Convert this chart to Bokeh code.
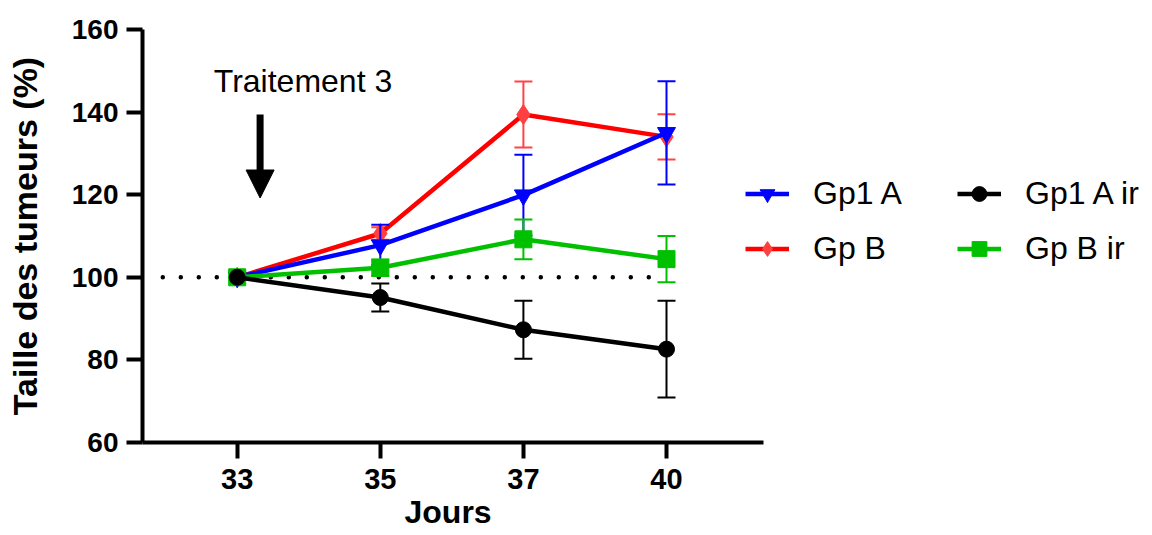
from bokeh.plotting import figure
from bokeh.models import (Range1d, FixedTicker, Legend, LegendItem, Label,
                          Arrow, NormalHead, Title)
from bokeh.embed import file_html
from bokeh.resources import INLINE

# ---------------- data ----------------
jours = ["33", "35", "37", "40"]
x_idx = [0, 1, 2, 3]

gp1a = [100, 107.8, 119.9, 135.0]
gp1a_err = [0, 4.9, 9.8, 12.5]

gpb = [100, 110.6, 139.4, 134.0]
gpb_err = [0, 1.5, 8.0, 5.5]

gpbir = [100, 102.3, 109.2, 104.4]
gpbir_err = [0, 2.0, 4.8, 5.6]

gp1air = [100, 95.1, 87.3, 82.6]
gp1air_err = [0, 3.4, 7.0, 11.7]

y_ticks = [60, 80, 100, 120, 140, 160]
ref_level = 100
ref_x = [-0.52, 3.0]

treat_x = 0.16
treat_y_start = 139.4
treat_y_end = 119.2
treat_text = "Traitement 3"

FONT = "Liberation Sans"

# ---------------- figure ----------------
W, H = 1152, 535
LEFT, TOP, FW, FH = 142, 29, W - 142, 413
PX_PER_DAY = 143.1
X0 = -(236.7 - LEFT) / PX_PER_DAY          # left end of x axis
X_AXIS_END = (763 - 236.7) / PX_PER_DAY    # right end of drawn x axis
X1 = X0 + FW / PX_PER_DAY                  # frame extends under legend

p = figure(width=W, height=H,
           x_range=Range1d(X0, X1), y_range=Range1d(60, 160),
           output_backend="svg", toolbar_location=None,
           min_border_left=LEFT, min_border_right=0,
           min_border_top=TOP, min_border_bottom=H - TOP - FH)
p.outline_line_color = None
p.xgrid.visible = False
p.ygrid.visible = False
p.background_fill_color = "white"
p.border_fill_color = "white"

for ax in (p.xaxis[0], p.yaxis[0]):
    ax.axis_line_width = 4
    ax.axis_line_color = "black"
    ax.major_tick_line_width = 4
    ax.major_tick_line_color = "black"
    ax.major_tick_out = 16
    ax.major_tick_in = 0
    ax.minor_tick_line_color = None
    ax.major_label_text_font = FONT
    ax.major_label_text_font_style = "bold"
    ax.major_label_text_color = "black"
    ax.axis_label_text_font = FONT
    ax.axis_label_text_font_style = "bold"
    ax.axis_label_text_color = "black"

p.xaxis.bounds = (X0, X_AXIS_END)
p.xaxis.ticker = FixedTicker(ticks=x_idx)
p.xaxis.major_label_overrides = {i: j for i, j in zip(x_idx, jours)}
p.xaxis.major_label_text_font_size = "29px"
p.xaxis.major_label_standoff = 10

p.yaxis.ticker = FixedTicker(ticks=y_ticks)
p.yaxis.major_label_text_font_size = "28px"
p.yaxis.major_label_standoff = 8
p.yaxis.axis_label = "Taille des tumeurs (%)"
p.yaxis.axis_label_text_font_size = "34px"
p.yaxis.axis_label_standoff = 25

# x axis title, placed under the middle of the drawn axis
p.add_layout(Title(text="Jours", align="left", offset=262,
                   text_font=FONT, text_font_style="bold", text_font_size="32px",
                   text_color="black", standoff=0), "below")

# dotted reference line
p.line(ref_x, [ref_level, ref_level], line_color="black", line_width=4.5,
       line_dash="0 18", line_cap="round")


def draw(vals, errs, color, ecolor, marker, size, mcolor):
    xs = [x for x, e in zip(x_idx, errs) if e > 0]
    up = [v + e for v, e in zip(vals, errs) if e > 0]
    lo = [v - e for v, e in zip(vals, errs) if e > 0]
    p.segment(xs, lo, xs, up, line_color=ecolor, line_width=2)
    p.scatter(xs, up, marker="dash", size=18, line_color=ecolor, line_width=2)
    p.scatter(xs, lo, marker="dash", size=18, line_color=ecolor, line_width=2)
    ln = p.line(x_idx, vals, line_color=color, line_width=4.5)
    mk = p.scatter(x_idx, vals, marker=marker, size=size, fill_color=mcolor,
                   line_color=mcolor)
    return [ln, mk]


r_gpb = draw(gpb, gpb_err, "#FF0000", "#FF4444", "diamond", 20, "#FF4040")
r_gp1a = draw(gp1a, gp1a_err, "#0000FF", "#0000FF", "inverted_triangle", 18, "#0000FF")
r_gpbir = draw(gpbir, gpbir_err, "#00C000", "#00C000", "square", 17, "#00C000")
r_gp1air = draw(gp1air, gp1air_err, "#000000", "#000000", "circle", 16, "#000000")

# treatment annotation
p.add_layout(Arrow(end=NormalHead(size=28, fill_color="black", line_color="black",
                                  line_width=1),
                   x_start=treat_x, y_start=treat_y_start,
                   x_end=treat_x, y_end=treat_y_end,
                   line_width=7, line_color="black"))
p.add_layout(Label(x=0.46, y=147.5, text=treat_text, text_font=FONT,
                   text_font_size="32px", text_align="center",
                   text_baseline="alphabetic", text_color="black"))

legend = Legend(items=[
    LegendItem(label="Gp1 A", renderers=r_gp1a),
    LegendItem(label="Gp B", renderers=r_gpb),
    LegendItem(label="Gp1 A ir", renderers=r_gp1air),
    LegendItem(label="Gp B ir", renderers=r_gpbir),
], location=(603, 175), orientation="vertical", ncols=2)
legend.label_text_font = FONT
legend.label_text_font_size = "32px"
legend.label_text_color = "black"
legend.glyph_width = 44
legend.glyph_height = 37
legend.label_height = 37
legend.label_width = 126
legend.label_standoff = 24
legend.spacing = 18
legend.padding = 0
legend.margin = 0
legend.border_line_color = None
legend.background_fill_alpha = 0
p.add_layout(legend)

open("out.html", "w").write(file_html(p, INLINE))
